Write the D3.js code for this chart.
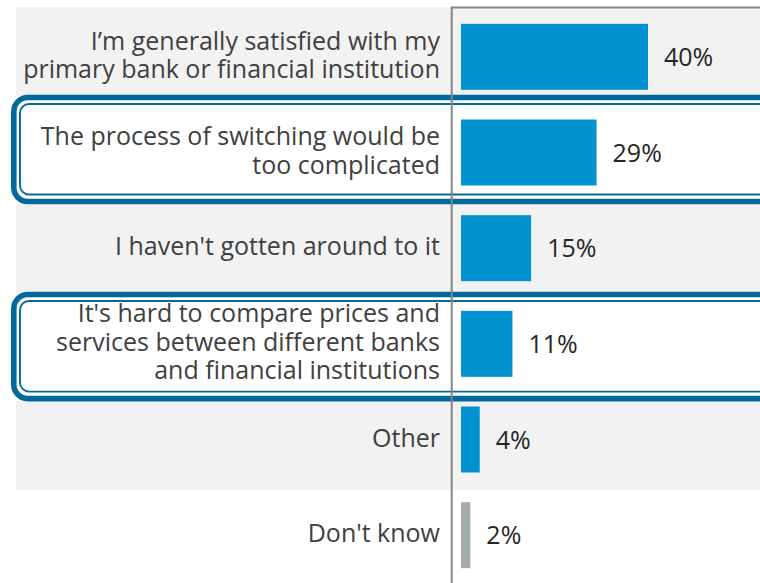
<!DOCTYPE html>
<html>
<head>
<meta charset="utf-8">
<script src="https://cdn.jsdelivr.net/npm/d3@7"></script>
<style>
  body { margin: 0; background: #fff; }
  svg { display: block; }
</style>
</head>
<body>
<script>
// reasons given (share of respondents, %)
let categories = [
  ["I\u2019m generally satisfied with my", "primary bank or financial institution"],
  ["The process of switching would be", "too complicated"],
  ["I haven't gotten around to it"],
  ["It's hard to compare prices and", "services between different banks", "and financial institutions"],
  ["Other"],
  ["Don't know"]
]
let values = [40, 29, 15, 11, 4, 2]
let highlighted = [1, 3]
let shaded = [0, 2, 4]

let width = 760
let height = 583
let font = "'Open Sans', 'Noto Sans', sans-serif"

let svg = d3.select("body")
            .append("svg")
            .attr("width", width)
            .attr("height", height)

let ids = d3.range(values.length)

// rows for the shaded bands and the highlight boxes
let rowScale = d3.scaleBand()
                 .domain(ids)
                 .range([7, 588.6])
                 .paddingInner(0.096)

// rows for the bars
let yScale = d3.scaleBand()
               .domain(ids)
               .range([9, 583])
               .paddingInner(0.31)
               .paddingOuter(0.155)

let xScale = d3.scaleLinear()
               .domain([0, 40])
               .range([461, 648])

let axisX = 451.7

// grey row bands
svg.selectAll(".band")
   .data(shaded)
   .enter()
   .append("rect")
   .attr("class", "band")
   .attr("x", 16)
   .attr("y", (i) => rowScale(i))
   .attr("width", width)
   .attr("height", rowScale.bandwidth())
   .attr("fill", "#f2f2f2")

// highlight boxes: thick outer line, thin inner line
svg.selectAll(".box-outer")
   .data(highlighted)
   .enter()
   .append("rect")
   .attr("class", "box-outer")
   .attr("x", 13.8)
   .attr("y", (i) => rowScale(i) - 8)
   .attr("width", 820)
   .attr("height", rowScale.bandwidth() + 15)
   .attr("rx", 14)
   .attr("fill", "#fff")
   .attr("stroke", "#03699b")
   .attr("stroke-width", 5.6)

svg.selectAll(".box-inner")
   .data(highlighted)
   .enter()
   .append("rect")
   .attr("class", "box-inner")
   .attr("x", 20)
   .attr("y", (i) => rowScale(i) - 1.5)
   .attr("width", 820)
   .attr("height", rowScale.bandwidth() + 1.5)
   .attr("rx", 9)
   .attr("fill", "none")
   .attr("stroke", "#03699b")
   .attr("stroke-width", 1.9)

// frame: vertical axis line and top edge
svg.append("path")
   .attr("d", "M" + axisX + "," + height + "V7.5H" + width)
   .attr("fill", "none")
   .attr("stroke", "#858585")
   .attr("stroke-width", 2)

// bars
svg.selectAll(".bar")
   .data(ids)
   .enter()
   .append("rect")
   .attr("class", "bar")
   .attr("x", xScale(0))
   .attr("y", (i) => yScale(i))
   .attr("width", (i) => xScale(values[i]) - xScale(0))
   .attr("height", yScale.bandwidth())
   .attr("fill", (i) => categories[i][0] == "Don't know" ? "#a6aeab" : "#0092d1")

// value labels
svg.selectAll(".value")
   .data(ids)
   .enter()
   .append("text")
   .attr("class", "value")
   .attr("x", (i) => xScale(values[i]) + 16)
   .attr("y", (i) => yScale(i) + yScale.bandwidth() / 2)
   .attr("dy", "0.36em")
   .attr("font-family", font)
   .attr("font-size", 25)
   .attr("fill", "#262626")
   .text((i) => values[i] + "%")

// category labels, right aligned left of the axis line
let lineHeight = 28.5
let labels = svg.selectAll(".label")
   .data(ids)
   .enter()
   .append("text")
   .attr("class", "label")
   .attr("text-anchor", "end")
   .attr("font-family", font)
   .attr("font-size", 25)
   .attr("fill", "#404040")

labels.each(function (i) {
    let lines = categories[i]
    let mid = yScale(i) + yScale.bandwidth() / 2 - 2
    let first = mid - (lines.length - 1) * lineHeight / 2
    d3.select(this)
      .selectAll("tspan")
      .data(lines)
      .enter()
      .append("tspan")
      .attr("x", 440)
      .attr("y", (d, k) => first + k * lineHeight)
      .attr("dy", "0.36em")
      .text((d) => d)
})
</script>
</body>
</html>
